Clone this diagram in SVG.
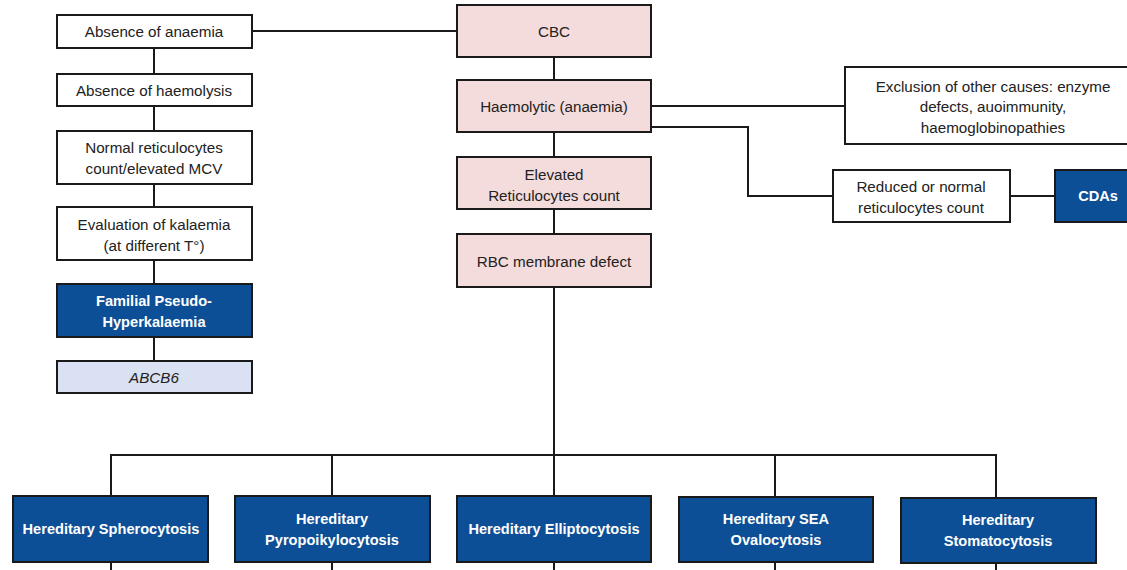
<svg xmlns="http://www.w3.org/2000/svg" width="1127" height="570" viewBox="0 0 1127 570">
<style>
.b{stroke:#1a1a1a;stroke-width:2}
.w{fill:#ffffff}
.p{fill:#f5dcdc}
.d{fill:#0d4f96}
.l{fill:#d9e1f2}
text{font-family:"Liberation Sans",Arial,sans-serif;font-size:15.2px;fill:#222;text-anchor:middle}
.t{fill:#ffffff;font-weight:bold;font-size:14.6px}
.c line,.c polyline{stroke:#1a1a1a;stroke-width:2;fill:none}
</style>
<rect width="1127" height="570" fill="#ffffff"/>
<g class="c" id="connectors">
<line x1="252" y1="31" x2="457" y2="31"/>
<line x1="154" y1="48" x2="154" y2="74"/>
<line x1="154" y1="106" x2="154" y2="131"/>
<line x1="154" y1="184" x2="154" y2="207"/>
<line x1="154" y1="260" x2="154" y2="284"/>
<line x1="154" y1="337" x2="154" y2="361"/>
<line x1="554" y1="57" x2="554" y2="80"/>
<line x1="554" y1="132" x2="554" y2="157"/>
<line x1="554" y1="209" x2="554" y2="234"/>
<line x1="651" y1="106" x2="845" y2="106"/>
<polyline points="651,127 748,127 748,196 833,196"/>
<line x1="1010" y1="196" x2="1055" y2="196"/>
<line x1="554" y1="287" x2="554" y2="455"/>
<line x1="110" y1="455" x2="997" y2="455"/>
<line x1="111" y1="455" x2="111" y2="496"/>
<line x1="332" y1="455" x2="332" y2="496"/>
<line x1="554" y1="455" x2="554" y2="496"/>
<line x1="775" y1="455" x2="775" y2="497"/>
<line x1="996" y1="455" x2="996" y2="498"/>
<line x1="111" y1="562" x2="111" y2="570"/>
<line x1="332" y1="562" x2="332" y2="570"/>
<line x1="554" y1="562" x2="554" y2="570"/>
<line x1="775" y1="562" x2="775" y2="570"/>
<line x1="996" y1="563" x2="996" y2="570"/>
</g>
<g id="absence-anaemia"><rect class="b w" x="57" y="15" width="195" height="33"/><text x="154" y="37">Absence of anaemia</text></g>
<g id="absence-haemolysis"><rect class="b w" x="57" y="74" width="195" height="32"/><text x="154" y="96">Absence of haemolysis</text></g>
<g id="normal-retic"><rect class="b w" x="57" y="131" width="195" height="53"/><text x="154" y="153">Normal reticulocytes</text><text x="154" y="174">count/elevated MCV</text></g>
<g id="evaluation"><rect class="b w" x="57" y="207" width="195" height="53"/><text x="154" y="230">Evaluation of kalaemia</text><text x="154" y="251">(at different T°)</text></g>
<g id="fph"><rect class="b d" x="57" y="284" width="195" height="53"/><text class="t" x="154" y="306">Familial Pseudo-</text><text class="t" x="154" y="327">Hyperkalaemia</text></g>
<g id="abcb6"><rect class="b l" x="57" y="361" width="195" height="32"/><text x="154" y="383" font-style="italic">ABCB6</text></g>
<g id="cbc"><rect class="b p" x="457" y="5" width="194" height="52"/><text x="554" y="37">CBC</text></g>
<g id="haemolytic"><rect class="b p" x="457" y="80" width="194" height="52"/><text x="554" y="112">Haemolytic (anaemia)</text></g>
<g id="elevated"><rect class="b p" x="457" y="157" width="194" height="52"/><text x="554" y="180">Elevated</text><text x="554" y="201">Reticulocytes count</text></g>
<g id="rbc"><rect class="b p" x="457" y="234" width="194" height="53"/><text x="554" y="267">RBC membrane defect</text></g>
<g id="exclusion"><rect class="b w" x="845" y="67" width="300" height="77"/><text x="993" y="92">Exclusion of other causes: enzyme</text><text x="993" y="112">defects, auoimmunity,</text><text x="993" y="133">haemoglobinopathies</text></g>
<g id="reduced"><rect class="b w" x="833" y="170" width="177" height="52"/><text x="921" y="192">Reduced or normal</text><text x="921" y="213">reticulocytes count</text></g>
<g id="cdas"><rect class="b d" x="1055" y="170" width="90" height="52"/><text class="t" x="1098" y="201">CDAs</text></g>
<g id="hs"><rect class="b d" x="13" y="496" width="195" height="66"/><text class="t" x="111" y="534">Hereditary Spherocytosis</text></g>
<g id="hp"><rect class="b d" x="235" y="496" width="195" height="66"/><text class="t" x="332" y="524">Hereditary</text><text class="t" x="332" y="545">Pyropoikylocytosis</text></g>
<g id="he"><rect class="b d" x="457" y="496" width="194" height="66"/><text class="t" x="554" y="534">Hereditary Elliptocytosis</text></g>
<g id="sea"><rect class="b d" x="679" y="497" width="194" height="65"/><text class="t" x="776" y="524">Hereditary SEA</text><text class="t" x="776" y="545">Ovalocytosis</text></g>
<g id="hst"><rect class="b d" x="901" y="498" width="195" height="65"/><text class="t" x="998" y="525">Hereditary</text><text class="t" x="998" y="546">Stomatocytosis</text></g>
</svg>
